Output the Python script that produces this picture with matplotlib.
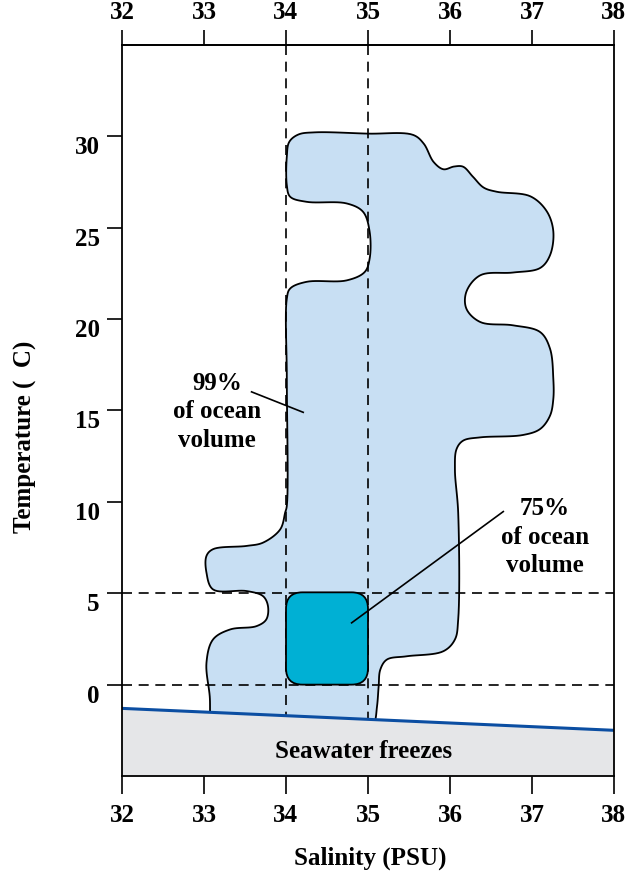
import numpy as np
import matplotlib
matplotlib.use("Agg")
import matplotlib.pyplot as plt
from matplotlib.patches import Polygon, FancyBboxPatch
from matplotlib.transforms import ScaledTranslation

plt.rcParams['font.family'] = ['Liberation Serif', 'DejaVu Serif']
plt.rcParams['font.weight'] = 'bold'

# ---- data ----
salinity_ticks = [32, 33, 34, 35, 36, 37, 38]
temp_ticks = [0, 5, 10, 15, 20, 25, 30]
x_range = [32, 38]
y_range = [-5, 35]

# freezing line (salinity, temperature)
freeze_s = [32, 38]
freeze_t = [-1.3, -2.5]

# 99% ocean volume outline (salinity, temperature), clockwise
blob_s = [34.01, 34.04, 34.15, 34.35, 35.00, 35.55, 35.68, 35.80, 35.92, 36.05, 36.16,
          36.28, 36.41, 36.57, 36.98, 37.18, 37.26, 37.22, 37.10, 36.77, 36.37,
          36.20, 36.20, 36.37, 36.77, 37.10, 37.22, 37.26, 37.26, 37.22, 37.10,
          36.89, 36.37, 36.16, 36.08, 36.06, 36.10, 36.10, 36.06, 35.92, 35.47,
          35.23, 35.15, 35.13, 35.11, 35.07, 34.90, 33.20, 33.09,
          33.07, 33.03, 33.11, 33.32, 33.64, 33.76, 33.78, 33.72, 33.52, 33.11,
          33.03, 33.03, 33.11, 33.52, 33.72, 33.93, 33.99, 34.01, 34.01, 34.01,
          34.05, 34.25, 34.74, 34.96, 35.02, 35.02, 34.94, 34.74, 34.25, 34.05,
          34.01]
blob_t = [28.9, 29.70, 30.10, 30.22, 30.15, 30.08, 29.60, 28.60, 28.20, 28.35, 28.34,
          27.79, 27.20, 26.97, 26.72, 25.90, 24.80, 23.50, 22.80, 22.55, 22.40,
          21.50, 20.57, 19.84, 19.66, 19.29, 18.38, 16.73, 15.63, 14.72, 13.99,
          13.66, 13.53, 13.35, 12.89, 11.79, 9.40, 3.57, 2.47, 1.83, 1.55,
          1.37, 0.82, -0.09, -1.19, -2.20, -3.20, -3.20, -2.20,
          -0.64, 1.19, 2.47, 3.02, 3.20, 3.57, 4.30, 4.84, 5.12, 5.21,
          6.13, 7.04, 7.41, 7.59, 7.77, 8.50, 9.42, 9.78, 16.73, 21.12,
          21.67, 22.04, 22.12, 22.58, 23.31, 24.78, 25.87, 26.33, 26.42, 26.70,
          27.33]

# 75% ocean volume box
core_s = [34.0, 35.0]
core_t = [0.0, 5.05]

label99 = "99%\nof ocean\nvolume"
label75 = "75%\nof ocean\nvolume"
label99_pos = (33.16, 14.92)
label99_line = ([33.58, 34.21], [16.02, 14.90])
label75_pos = (37.16, 8.06)
label75_line = ([36.65, 34.80], [9.47, 3.38])

FS = 18


def catmull_closed(xs, ys, sx, sy, n=12, alpha=0.5):
    P = np.column_stack([np.asarray(xs) * sx, np.asarray(ys) * sy])
    m = len(P)
    out = []
    for i in range(m):
        p0, p1, p2, p3 = P[(i - 1) % m], P[i], P[(i + 1) % m], P[(i + 2) % m]
        t0 = 0.0
        t1 = t0 + max(np.linalg.norm(p1 - p0), 1e-6) ** alpha
        t2 = t1 + max(np.linalg.norm(p2 - p1), 1e-6) ** alpha
        t3 = t2 + max(np.linalg.norm(p3 - p2), 1e-6) ** alpha
        for t in np.linspace(t1, t2, n, endpoint=False):
            a1 = (t1 - t) / (t1 - t0) * p0 + (t - t0) / (t1 - t0) * p1
            a2 = (t2 - t) / (t2 - t1) * p1 + (t - t1) / (t2 - t1) * p2
            a3 = (t3 - t) / (t3 - t2) * p2 + (t - t2) / (t3 - t2) * p3
            b1 = (t2 - t) / (t2 - t0) * a1 + (t - t0) / (t2 - t0) * a2
            b2 = (t3 - t) / (t3 - t1) * a2 + (t - t1) / (t3 - t1) * a3
            c = (t2 - t) / (t2 - t1) * b1 + (t - t1) / (t2 - t1) * b2
            out.append(c)
    out = np.array(out)
    return out[:, 0] / sx, out[:, 1] / sy


fig = plt.figure(figsize=(6.43, 8.72), dpi=100)
ax = fig.add_axes([122 / 643, 1 - 776 / 872, 492 / 643, 731 / 872])
ax.set_xlim(*x_range)
ax.set_ylim(*y_range)

# blob
bx, by = catmull_closed(blob_s, blob_t, 82.0, 18.27)
ax.add_patch(Polygon(np.column_stack([bx, by]), closed=True, facecolor='#c8dff3',
                     edgecolor='black', linewidth=1.3, zorder=1))

# dashed reference lines
dash_kw = dict(color='black', linewidth=1.2, dashes=(6, 4), zorder=2)
for s in [34, 35]:
    ax.plot([s, s], [y_range[1], y_range[0]], **dash_kw)
for t in [0, 5]:
    ax.plot(x_range, [t, t], **dash_kw)

# 75% core box
ax.add_patch(FancyBboxPatch((core_s[0], core_t[0]), core_s[1] - core_s[0], core_t[1] - core_t[0],
                            boxstyle="round,pad=0,rounding_size=0.2", mutation_aspect=4.5,
                            facecolor='#00b0d4', edgecolor='black', linewidth=1.3, zorder=3))

# freezing region
fx = np.array(freeze_s)
ft = np.array(freeze_t)
ax.fill_between(fx, ft, y_range[0], color='#e5e6e8', zorder=4, linewidth=0)
ax.plot(fx, ft, color='#0b4ea2', linewidth=2.2, zorder=5)
ax.text(34.95, -3.68, "Seawater freezes", ha='center', va='center', fontsize=FS,
        fontweight='bold', zorder=6)

# annotations
ax.plot(*label99_line, color='black', linewidth=1.2, zorder=6)
ax.text(*label99_pos, label99, ha='center', va='center', fontsize=FS, fontweight='bold',
        linespacing=1.3, zorder=6)
ax.plot(*label75_line, color='black', linewidth=1.2, zorder=6)
ax.text(*label75_pos, label75, ha='center', va='center', fontsize=FS, fontweight='bold',
        linespacing=1.3, zorder=6)

# axes styling
for sp in ax.spines.values():
    sp.set_linewidth(1.3)
    sp.set_zorder(10)
ax.set_xticks(salinity_ticks)
ax.set_yticks(temp_ticks)
ax.tick_params(axis='x', top=False, labeltop=False, direction='out', length=13, width=1.2,
               labelsize=FS, pad=7)
ax.tick_params(axis='y', direction='out', length=11, width=1.2, labelsize=FS, pad=5,
               right=False)
sec = ax.secondary_xaxis('top')
sec.set_xticks(salinity_ticks)
sec.tick_params(direction='out', length=11, width=1.2, labelsize=FS, pad=4)
sec.spines['top'].set_linewidth(1.3)
for lab in ax.get_xticklabels() + ax.get_yticklabels() + sec.get_xticklabels():
    lab.set_fontweight('bold')
offset = ScaledTranslation(0, -9 / 100, fig.dpi_scale_trans)
for lab in ax.get_yticklabels():
    lab.set_transform(lab.get_transform() + offset)

fig.text(370 / 643, 1 - 858 / 872, "Salinity (PSU)", ha='center', va='center', fontsize=FS,
         fontweight='bold')
fig.text(25 / 643, 1 - 437 / 872, "Temperature (  C)", ha='center', va='center', fontsize=FS,
         fontweight='bold', rotation=90)

fig.savefig("out.png", dpi=100)
